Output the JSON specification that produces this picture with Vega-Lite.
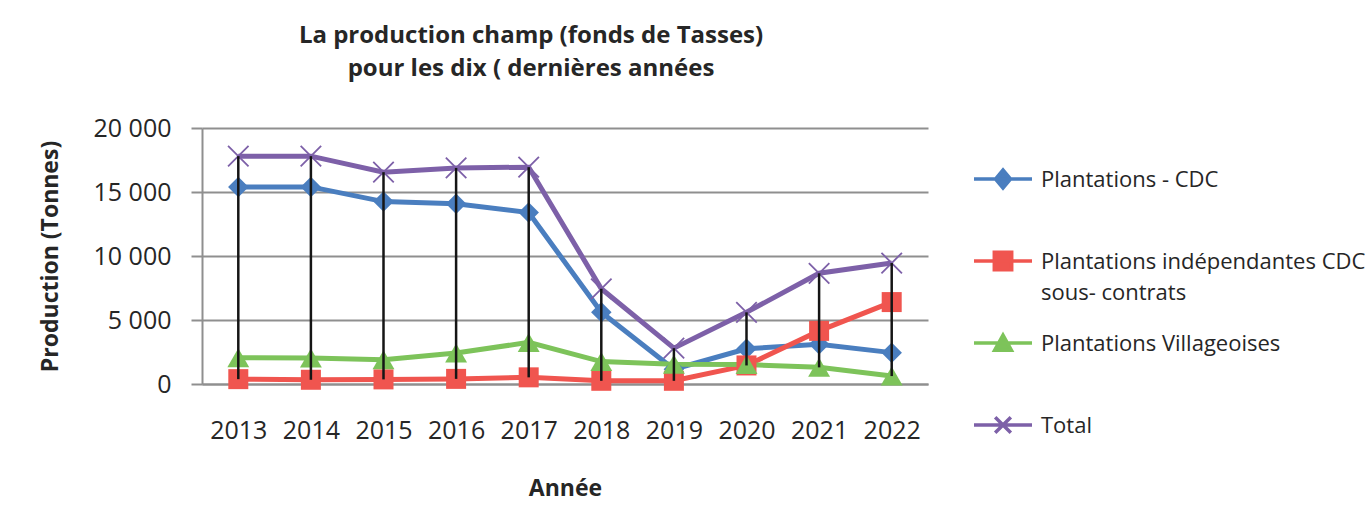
{
  "$schema": "https://vega.github.io/schema/vega-lite/v6.json",
  "autosize": "none",
  "width": 726,
  "height": 256,
  "padding": {"left": 202, "top": 128, "right": 440, "bottom": 144},
  "background": "white",
  "config": {
    "font": "Open Sans",
    "view": {"stroke": null},
    "axis": {"labelColor": "#262626", "titleColor": "#262626"}
  },
  "title": {
    "text": ["La production  champ  (fonds de Tasses)", "pour les dix ( dernières années"],
    "fontSize": 24,
    "fontWeight": "bold",
    "color": "#262626",
    "lineHeight": 33,
    "anchor": "middle",
    "frame": "group",
    "dx": -34,
    "offset": 35
  },
  "data": {
    "values": [
      {"annee": "2013", "serie": "Plantations - CDC", "valeur": 15400},
      {"annee": "2014", "serie": "Plantations - CDC", "valeur": 15400},
      {"annee": "2015", "serie": "Plantations - CDC", "valeur": 14250},
      {"annee": "2016", "serie": "Plantations - CDC", "valeur": 14080},
      {"annee": "2017", "serie": "Plantations - CDC", "valeur": 13400},
      {"annee": "2018", "serie": "Plantations - CDC", "valeur": 5600},
      {"annee": "2019", "serie": "Plantations - CDC", "valeur": 1150},
      {"annee": "2020", "serie": "Plantations - CDC", "valeur": 2750},
      {"annee": "2021", "serie": "Plantations - CDC", "valeur": 3100},
      {"annee": "2022", "serie": "Plantations - CDC", "valeur": 2450},
      {"annee": "2013", "serie": "Plantations indépendantes  CDC sous- contrats", "valeur": 380},
      {"annee": "2014", "serie": "Plantations indépendantes  CDC sous- contrats", "valeur": 330},
      {"annee": "2015", "serie": "Plantations indépendantes  CDC sous- contrats", "valeur": 360},
      {"annee": "2016", "serie": "Plantations indépendantes  CDC sous- contrats", "valeur": 400},
      {"annee": "2017", "serie": "Plantations indépendantes  CDC sous- contrats", "valeur": 520},
      {"annee": "2018", "serie": "Plantations indépendantes  CDC sous- contrats", "valeur": 250},
      {"annee": "2019", "serie": "Plantations indépendantes  CDC sous- contrats", "valeur": 250},
      {"annee": "2020", "serie": "Plantations indépendantes  CDC sous- contrats", "valeur": 1450},
      {"annee": "2021", "serie": "Plantations indépendantes  CDC sous- contrats", "valeur": 4150},
      {"annee": "2022", "serie": "Plantations indépendantes  CDC sous- contrats", "valeur": 6400},
      {"annee": "2013", "serie": "Plantations Villageoises", "valeur": 2050},
      {"annee": "2014", "serie": "Plantations Villageoises", "valeur": 2030},
      {"annee": "2015", "serie": "Plantations Villageoises", "valeur": 1900},
      {"annee": "2016", "serie": "Plantations Villageoises", "valeur": 2420},
      {"annee": "2017", "serie": "Plantations Villageoises", "valeur": 3250},
      {"annee": "2018", "serie": "Plantations Villageoises", "valeur": 1750},
      {"annee": "2019", "serie": "Plantations Villageoises", "valeur": 1550},
      {"annee": "2020", "serie": "Plantations Villageoises", "valeur": 1520},
      {"annee": "2021", "serie": "Plantations Villageoises", "valeur": 1300},
      {"annee": "2022", "serie": "Plantations Villageoises", "valeur": 620},
      {"annee": "2013", "serie": "Total", "valeur": 17800},
      {"annee": "2014", "serie": "Total", "valeur": 17800},
      {"annee": "2015", "serie": "Total", "valeur": 16550},
      {"annee": "2016", "serie": "Total", "valeur": 16880},
      {"annee": "2017", "serie": "Total", "valeur": 16940},
      {"annee": "2018", "serie": "Total", "valeur": 7440},
      {"annee": "2019", "serie": "Total", "valeur": 2800},
      {"annee": "2020", "serie": "Total", "valeur": 5600},
      {"annee": "2021", "serie": "Total", "valeur": 8650},
      {"annee": "2022", "serie": "Total", "valeur": 9450}
    ]
  },
  "encoding": {
    "x": {
      "field": "annee",
      "type": "ordinal",
      "scale": {"type": "point", "padding": 0.5},
      "axis": {
        "title": "Année",
        "labelAngle": 0,
        "labelFontSize": 25,
        "labelPadding": 34,
        "ticks": false,
        "tickSize": 0,
        "domain": true,
        "domainColor": "#8f8f8f",
        "domainWidth": 2,
        "grid": false,
        "titleFontSize": 23,
        "titleFontWeight": "bold",
        "titleBaseline": "alphabetic",
        "titleY": 111
      }
    },
    "y": {
      "field": "valeur",
      "type": "quantitative",
      "scale": {"domain": [0, 20000]},
      "axis": {
        "title": "Production (Tonnes)",
        "values": [0, 5000, 10000, 15000, 20000],
        "labelExpr": "replace(format(datum.value, ','), ',', ' ')",
        "labelFontSize": 25,
        "labelPadding": 20,
        "tickSize": 11,
        "tickColor": "#8f8f8f",
        "tickWidth": 2,
        "domainColor": "#8f8f8f",
        "domainWidth": 2,
        "gridColor": "#8f8f8f",
        "gridWidth": 2,
        "titleFontSize": 23,
        "titleFontWeight": "bold",
        "titleBaseline": "alphabetic",
        "titleAngle": -90,
        "titleX": -145,
        "titleY": 128,
        "titleAlign": "center"
      }
    }
  },
  "layer": [
    {
      "mark": {"type": "line", "strokeWidth": 5},
      "encoding": {
        "color": {
          "field": "serie",
          "type": "nominal",
          "scale": {
            "domain": ["Plantations - CDC", "Plantations indépendantes  CDC sous- contrats", "Plantations Villageoises", "Total"],
            "range": ["#4a7ebf", "#f0554f", "#7dc35a", "#7d60a8"]
          },
          "legend": {
            "title": null,
            "orient": "none",
            "legendX": 770,
            "legendY": 20,
            "padding": 0,
            "gridAlign": "all",
            "rowPadding": 8,
            "symbolType": "M-1,0H1",
            "symbolSize": 3364,
            "symbolStrokeWidth": 3.5,
            "labelFontSize": 22,
            "labelColor": "#262626",
            "labelOffset": 7,
            "labelLimit": 500,
            "labelBaseline": "alphabetic",
            "labelExpr": "datum.label == 'Plantations indépendantes  CDC sous- contrats' ? ['Plantations indépendantes  CDC', 'sous- contrats'] : datum.label",
            "encode": {
              "symbols": {
                "update": {
                  "shape": {"signal": "datum.value == 'Plantations - CDC' ? 'M-1,0H1M-0.26,0L0,-0.31L0.26,0L0,0.31Z' : datum.value == 'Total' ? 'M-1,0H1M-0.27,-0.27L0.27,0.27M-0.27,0.27L0.27,-0.27' : datum.value == 'Plantations Villageoises' ? 'M-1,0H1M-0.29,0.25L0,-0.27L0.29,0.25Z' : 'M-1,0H1M-0.3,-0.3H0.3V0.3H-0.3Z'"},
                  "fill": {"signal": "datum.value == 'Total' ? 'transparent' : scale('color', datum.value)"}
                }
              },
              "labels": {
                "update": {
                  "dy": {"value": 8},
                  "lineHeight": {"value": 31}
                }
              }
            }
          }
        }
      }
    },
    {
      "transform": [{"filter": "datum.serie == 'Plantations - CDC'"}],
      "mark": {"type": "point", "shape": "diamond", "filled": true, "size": 420, "opacity": 1},
      "encoding": {"color": {"field": "serie", "type": "nominal", "legend": null}}
    },
    {
      "transform": [{"filter": "datum.serie == 'Plantations indépendantes  CDC sous- contrats'"}],
      "mark": {"type": "point", "shape": "square", "filled": true, "size": 400, "opacity": 1},
      "encoding": {"color": {"field": "serie", "type": "nominal", "legend": null}}
    },
    {
      "transform": [{"filter": "datum.serie == 'Plantations Villageoises'"}],
      "mark": {"type": "point", "shape": "triangle-up", "filled": true, "size": 480, "opacity": 1},
      "encoding": {"color": {"field": "serie", "type": "nominal", "legend": null}}
    },
    {
      "transform": [{"filter": "datum.serie == 'Total'"}],
      "mark": {"type": "point", "shape": "M-1,-1L1,1M-1,1L1,-1", "filled": false, "size": 420, "strokeWidth": 1.8, "opacity": 1},
      "encoding": {"color": {"field": "serie", "type": "nominal", "legend": null}}
    },
    {
      "transform": [
        {"aggregate": [{"op": "max", "field": "valeur", "as": "haut"}, {"op": "min", "field": "valeur", "as": "bas"}], "groupby": ["annee"]}
      ],
      "mark": {"type": "rule", "color": "#151515", "strokeWidth": 2.5},
      "encoding": {
        "y": {"field": "haut", "type": "quantitative"},
        "y2": {"field": "bas"}
      }
    }
  ]
}
